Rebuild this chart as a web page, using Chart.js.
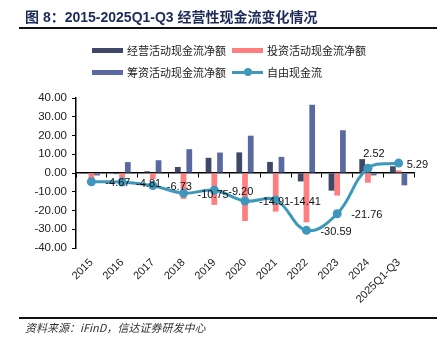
<!DOCTYPE html>
<html><head><meta charset="utf-8">
<script src="https://cdn.jsdelivr.net/npm/chart.js@4.4.0/dist/chart.umd.min.js"></script>
<style>
html,body{margin:0;padding:0;background:#fff;width:447px;height:356px;overflow:hidden;position:relative;font-family:"Liberation Sans","Noto Sans CJK SC",sans-serif;}
#title{position:absolute;left:25px;top:8px;font-size:14px;font-weight:bold;color:#1c2b5a;white-space:nowrap;line-height:18px;}
.rule{position:absolute;left:19px;width:418px;height:2px;background:#111;}
.li{position:absolute;display:flex;align-items:center;font-size:11px;color:#222;white-space:nowrap;height:16px;line-height:16px;font-family:"Noto Sans CJK SC",sans-serif;}
.sw{width:31px;height:5px;margin-right:4px;}
.swl{position:relative;width:31px;height:10px;margin-right:4px;}
.swl .ln{position:absolute;left:0;top:3.5px;width:31px;height:3px;}
.swl .dt{position:absolute;left:11.5px;top:1px;width:8px;height:8px;border-radius:50%;}
#src{position:absolute;left:25px;top:319px;font-size:11px;font-style:italic;color:#333;white-space:nowrap;font-family:"Noto Sans CJK SC",sans-serif;line-height:16px;}
canvas{position:absolute;left:0;top:0;}
</style>
</head><body>
<canvas id="c" width="447" height="356"></canvas>
<div id="title">图 8：2015-2025Q1-Q3 经营性现金流变化情况</div>
<div class="rule" style="top:27px"></div>
<div id="legend"></div>
<div class="rule" style="top:317px"></div>
<div id="src">资料来源：iFinD，信达证券研发中心</div>
<script>
const categories = ['2015','2016','2017','2018','2019','2020','2021','2022','2023','2024','2025Q1-Q3'];
const operating = [-0.2, -0.6, 0.9, 3.2, 8.1, 11.0, 5.9, -4.5, -9.4, 7.4, 3.6];
const investing = [-4.0, -3.0, -3.2, -13.8, -17.0, -25.6, -20.6, -26.3, -12.0, -5.2, 1.4];
const financing = [-1.3, 5.8, 6.8, 12.7, 10.9, 19.9, 8.6, 36.4, 22.8, -1.3, -6.6];
const freeCashFlow = [-4.67, -4.81, -6.73, -10.75, -9.20, -14.91, -14.41, -30.59, -21.76, 2.52, 5.29];
const seriesNames = ['经营活动现金流净额','投资活动现金流净额','筹资活动现金流净额','自由现金流'];
const yTicks = {min:-40, max:40, step:10};
const labelPlacement = ['right','right','right','right','right','right','right','right','right','top','rightNear'];

const colors = ['#404868','#ff7f81','#5b69a1','#3f98bb'];

const fcfLabels = {
  id:'fcfLabels',
  afterDatasetsDraw(chart){
    const meta = chart.getDatasetMeta(3);
    const ctx = chart.ctx;
    ctx.save();
    ctx.font = '11px "Liberation Sans", Arial, sans-serif';
    ctx.fillStyle = '#111';
    meta.data.forEach((pt,i)=>{
      const txt = freeCashFlow[i].toFixed(2);
      const p = labelPlacement[i];
      if(p==='top'){
        ctx.textAlign='center'; ctx.textBaseline='bottom';
        ctx.fillText(txt, pt.x+6, pt.y-9);
      } else if(p==='rightNear'){
        ctx.textAlign='left'; ctx.textBaseline='middle';
        ctx.fillText(txt, pt.x+8, pt.y+1.5);
      } else {
        ctx.textAlign='left'; ctx.textBaseline='middle';
        ctx.fillText(txt, pt.x+14, pt.y+1.5);
      }
    });
    ctx.restore();
  }
};

const chart = new Chart(document.getElementById('c'),{
  type:'bar',
  data:{
    labels:categories,
    datasets:[
      {label:seriesNames[0], data:operating, backgroundColor:colors[0], order:1},
      {label:seriesNames[1], data:investing, backgroundColor:colors[1], order:1},
      {label:seriesNames[2], data:financing, backgroundColor:colors[2], order:1},
      {type:'line', label:seriesNames[3], data:freeCashFlow, borderColor:colors[3], backgroundColor:colors[3],
       borderWidth:3, pointRadius:4.5, pointBorderWidth:0, pointBackgroundColor:colors[3], tension:0.4, order:0}
    ]
  },
  options:{
    responsive:false, animation:false, devicePixelRatio:1,
    layout:{padding:{left:0,right:33,top:98,bottom:48}},
    plugins:{legend:{display:false}, tooltip:{enabled:false}},
    datasets:{bar:{categoryPercentage:0.56, barPercentage:1}},
    scales:{
      x:{position:'bottom', grid:{display:false, drawTicks:false}, border:{display:false},
         ticks:{minRotation:45, maxRotation:45, autoSkip:false, font:{size:11, family:'"Liberation Sans", Arial, sans-serif'}, color:'#222', padding:8},
         afterFit(s){ s.height = 60; }},
      x2:{type:'category', axis:'x', position:{y:0}, offset:true,
          grid:{offset:true, drawOnChartArea:false, drawTicks:true, tickLength:4, color:'#000', lineWidth:1},
          border:{display:true, color:'#000', width:1.5},
          ticks:{display:false}},
      y:{min:yTicks.min, max:yTicks.max,
         ticks:{stepSize:yTicks.step, callback:v=>Number(v).toFixed(2), font:{size:11.5, family:'"Liberation Sans", Arial, sans-serif'}, color:'#222', padding:5},
         grid:{drawOnChartArea:false, drawTicks:true, tickLength:4, color:'#000'},
         border:{color:'#000', width:1.5},
         afterFit(s){ s.width = 76; }}
    }
  },
  plugins:[fcfLabels]
});

// HTML legend built from the chart's datasets
const leg = document.getElementById('legend');
chart.data.datasets.forEach((ds,i)=>{
  const col = i%2, row = Math.floor(i/2);
  const item = document.createElement('div');
  item.className='li';
  item.style.left = (92 + col*140) + 'px';
  item.style.top = (42 + row*22) + 'px';
  let sw;
  if(ds.type==='line'){
    sw = document.createElement('div'); sw.className='swl';
    sw.innerHTML = '<div class="ln" style="background:'+ds.borderColor+'"></div><div class="dt" style="background:'+ds.borderColor+'"></div>';
  } else {
    sw = document.createElement('div'); sw.className='sw'; sw.style.background = ds.backgroundColor;
  }
  item.appendChild(sw);
  const t = document.createElement('span'); t.textContent = ds.label;
  item.appendChild(t);
  leg.appendChild(item);
});
</script>
</body></html>
